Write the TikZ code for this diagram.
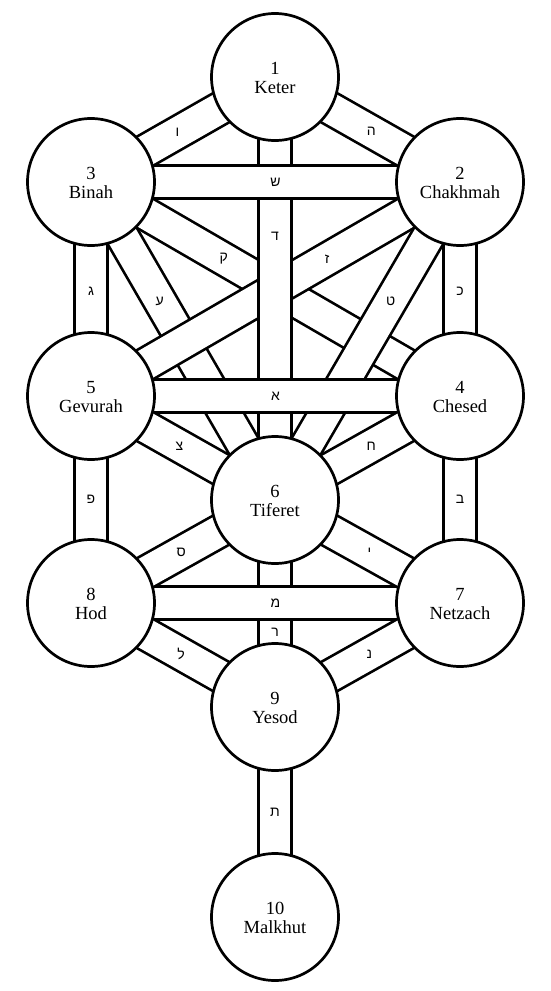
\documentclass[tikz,border=0pt]{standalone}
\usepackage{fontspec}
\setmainfont{Liberation Serif}
\newfontfamily\hebfont[Script=Hebrew]{Liberation Sans}
\pgfdeclarelayer{front}
\pgfsetlayers{main,front}
\newcommand{\seftext}[2]{\raisebox{-2.5pt}[\height][\depth]{\begin{tabular}{@{}c@{}}#1\\[-1pt]#2\end{tabular}}}
\tikzset{
  sefira/.style={circle, draw=black, line width=2.7pt, fill=white,
    minimum size=127pt, inner sep=0pt,
    font=\fontsize{18.5}{20}\selectfont},
  band/.style={line width=2.7pt, draw=black, double=white, double distance=30.5pt},
  lbl/.style={font=\hebfont\fontsize{14}{14}\selectfont, inner sep=0pt, text=black},
}
\begin{document}
\begin{tikzpicture}[x=1pt,y=-1pt]
\fill[white] (0,0) rectangle (550,991);
\useasboundingbox (0,0) rectangle (550,991);
\begin{pgfonlayer}{front}
\node[sefira] (n1) at (275,77) {\seftext{1}{Keter}};
\node[sefira] (n2) at (460,182) {\seftext{2}{Chakhmah}};
\node[sefira] (n3) at (91,182) {\seftext{3}{Binah}};
\node[sefira] (n4) at (460,396) {\seftext{4}{Chesed}};
\node[sefira] (n5) at (91,396) {\seftext{5}{Gevurah}};
\node[sefira] (n6) at (275,500) {\seftext{6}{Tiferet}};
\node[sefira] (n7) at (460,603) {\seftext{7}{Netzach}};
\node[sefira] (n8) at (91,603) {\seftext{8}{Hod}};
\node[sefira] (n9) at (275,707) {\seftext{9}{Yesod}};
\node[sefira] (n10) at (275,917) {\seftext{10}{Malkhut}};
\end{pgfonlayer}
% paths, drawn in stacking order
\draw[band] (n3.center) -- (n4.center) node[lbl,pos=.36] (lq) {ק};
\draw[band] (n3.center) -- (n6.center) node[lbl,pos=.374] (layin) {ע};
\draw[band] (n2.center) -- (n5.center) node[lbl,pos=.36] (lz) {ז};
\draw[band] (n2.center) -- (n6.center) node[lbl,pos=.374] (ltet) {ט};
\draw[band] (n1.center) -- (n6.center) node[lbl,pos=.376] (ld) {ד};
\draw[band] (n3.center) -- (n2.center) node[lbl,pos=.5] (lsh) {ש};
\draw[band] (n5.center) -- (n4.center) node[lbl,pos=.5] (la) {א};
\draw[band] (n1.center) -- (n2.center) node[lbl,pos=.52] (lh) {ה};
\draw[band] (n1.center) -- (n3.center) node[lbl,pos=.53] (lv) {ו};
\draw[band] (n3.center) -- (n5.center) node[lbl,pos=.51] (lg) {ג};
\draw[band] (n2.center) -- (n4.center) node[lbl,pos=.51] (lk) {כ};
\draw[band] (n5.center) -- (n6.center) node[lbl,pos=.48] (lts) {צ};
\draw[band] (n4.center) -- (n6.center) node[lbl,pos=.48] (lch) {ח};
\draw[band] (n5.center) -- (n8.center) node[lbl,pos=.5] (lp) {פ};
\draw[band] (n4.center) -- (n7.center) node[lbl,pos=.5] (lb) {ב};
\draw[band] (n6.center) -- (n9.center) node[lbl,pos=.64] (lr) {ר};
\draw[band] (n8.center) -- (n7.center) node[lbl,pos=.5] (lm) {מ};
\draw[band] (n6.center) -- (n8.center) node[lbl,pos=.51] (ls) {ס};
\draw[band] (n6.center) -- (n7.center) node[lbl,pos=.51] (ly) {י};
\draw[band] (n8.center) -- (n9.center) node[lbl,pos=.49] (ll) {ל};
\draw[band] (n7.center) -- (n9.center) node[lbl,pos=.49] (ln) {נ};
\draw[band] (n9.center) -- (n10.center) node[lbl,pos=.5] (lt) {ת};
\end{tikzpicture}
\end{document}
